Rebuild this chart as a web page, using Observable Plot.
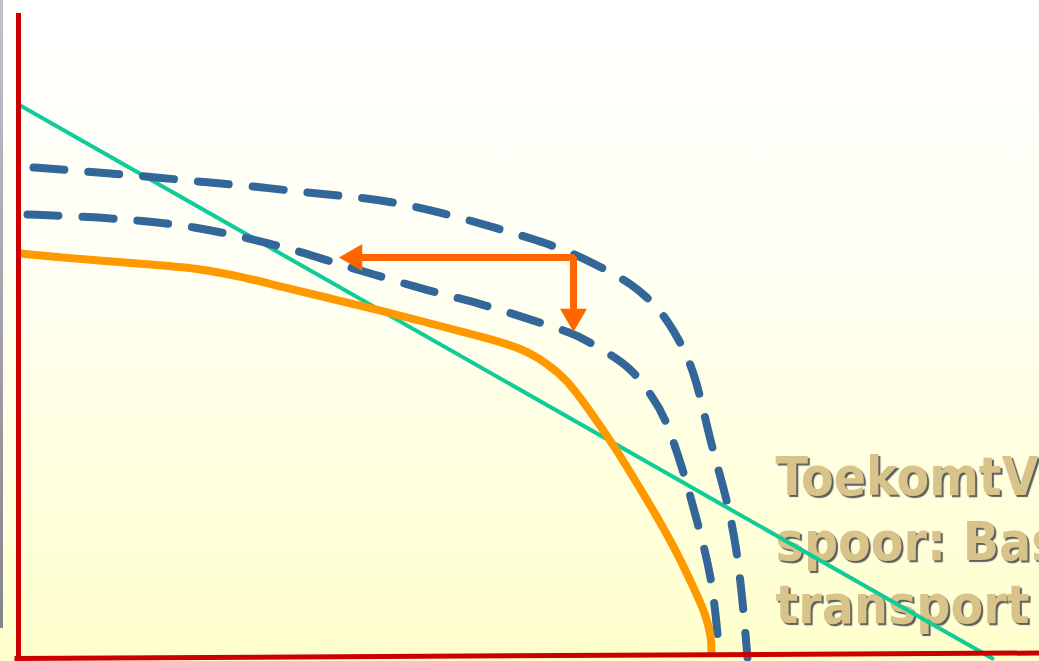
<!DOCTYPE html>
<html>
<head>
<meta charset="utf-8">
<script src="https://cdn.jsdelivr.net/npm/d3@7"></script>
<script src="https://cdn.jsdelivr.net/npm/@observablehq/plot@0.6"></script>
<style>
  html, body { margin: 0; padding: 0; background: #ffffff; }
  #wrap { position: relative; width: 1039px; height: 661px; overflow: hidden;
          background: linear-gradient(to bottom, #ffffff 0%, #fffff4 40%, #ffffcc 100%); }
  #strip { position: absolute; left: 0; top: 0; width: 3px; height: 628px;
           background: linear-gradient(to bottom, #c4c0cc, #84848c); }
  #wrap svg { position: absolute; left: 0; top: 0; background: transparent; overflow: hidden; }
  .lbl text { font-stretch: condensed; text-shadow: 2px 2px 1px #5c5c5c; }
</style>
</head>
<body>
<div id="wrap"><div id="strip"></div></div>
<script>
// Chart units: x to the right from the vertical axis, y upward from the horizontal axis.
const straightLine = [ {x: 0, y: 554}, {x: 974, y: 0} ];

const upperDashed = [
  [15,491],[44,489],[92,485],[140,481],[189,476],[237,472],[287,466],[332,462],
  [373,457],[423,446],[476,431],[530,415],[566,400],[592,386],[612,375],[629,361],
  [645,344],[661,318],[672,295],[681,266],[693,212],[709,158],[719,105],[725,48],[729,1]
];

const lowerDashed = [
  [9,444],[65,442],[122,438],[175,432],[232,420],[285,406],[315,396],[352,385],
  [409,368],[462,355],[515,338],[555,325],[568,318],[592,304],[614,289],[633,263],
  [646,243],[664,191],[679,136],[693,83],[699,26],[701,1]
];

const currentCurve = [
  [2,405],[42,401],[82,398],[132,394],[182,390],[222,382],[262,372],[312,360],
  [362,348],[412,335],[462,322],[502,311],[529,295],[549,278],[569,251],[592,218],
  [615,181],[639,141],[659,105],[675,71],[687,45],[693,21],[693,6]
];

// Arrow shaft (corner and ends) and arrowheads
const arrowShaft = [ {x: 342, y: 401}, {x: 555, y: 401}, {x: 555, y: 347} ];
const arrowHeads = [ {x: 336, y: 401, angle: -90}, {x: 555, y: 342, angle: 180} ];

const labelLines = ["ToekomtV", "spoor: Bas", "transport"];
const labelBaselines = [164, 99, 36];
const labelX = 757;

const axisV = [ {x: 0, y1: -2, y2: 645} ];
const axisH = [ {x1: -4, y1: 0, x2: 1021, y2: 5.5} ];

const labels = labelLines.map((t, i) => ({text: t, x: labelX, y: labelBaselines[i]}));
const toObj = (arr) => arr.map(([x, y]) => ({x, y}));

const fontFam = "'DejaVu Sans Condensed', 'DejaVu Sans', Verdana, sans-serif";

const chart = Plot.plot({
  width: 1039,
  height: 661,
  margin: 0,
  style: { background: "transparent" },
  x: { domain: [-18, 1021], range: [0, 1039], axis: null },
  y: { domain: [-3, 658], range: [661, 0], axis: null },
  marks: [
    // label (with shadow)
    Plot.text(labels, { x: "x", y: "y", text: "text", textAnchor: "start", lineAnchor: "bottom",
      fontSize: 53, fontWeight: "bold", fontFamily: fontFam, fill: "#d8c38b", className: "lbl" }),
    // straight green line
    Plot.line(straightLine, { x: "x", y: "y", stroke: "#0fcc99", strokeWidth: 4 }),
    // dashed curves
    Plot.line(toObj(upperDashed), { x: "x", y: "y", stroke: "#336699", strokeWidth: 8,
      strokeDasharray: "31,24", curve: "basis" }),
    Plot.line(toObj(lowerDashed), { x: "x", y: "y", stroke: "#336699", strokeWidth: 8,
      strokeDasharray: "31,24", curve: "basis" }),
    // solid orange curve
    Plot.line(toObj(currentCurve), { x: "x", y: "y", stroke: "#ff9900", strokeWidth: 8,
      curve: "basis" }),
    // arrows
    Plot.line(arrowShaft, { x: "x", y: "y", stroke: "#ff6600", strokeWidth: 7,
      strokeLinejoin: "miter", strokeLinecap: "square" }),
    Plot.dot(arrowHeads, { x: "x", y: "y", rotate: "angle", symbol: "triangle", r: 10,
      fill: "#ff6600", stroke: "none" }),
    // red axes
    Plot.ruleX(axisV, { x: "x", y1: "y1", y2: "y2", stroke: "#cc0000", strokeWidth: 5 }),
    Plot.link(axisH, { x1: "x1", y1: "y1", x2: "x2", y2: "y2", stroke: "#cc0000", strokeWidth: 5 })
  ]
});

document.getElementById("wrap").appendChild(chart);
</script>
</body>
</html>
